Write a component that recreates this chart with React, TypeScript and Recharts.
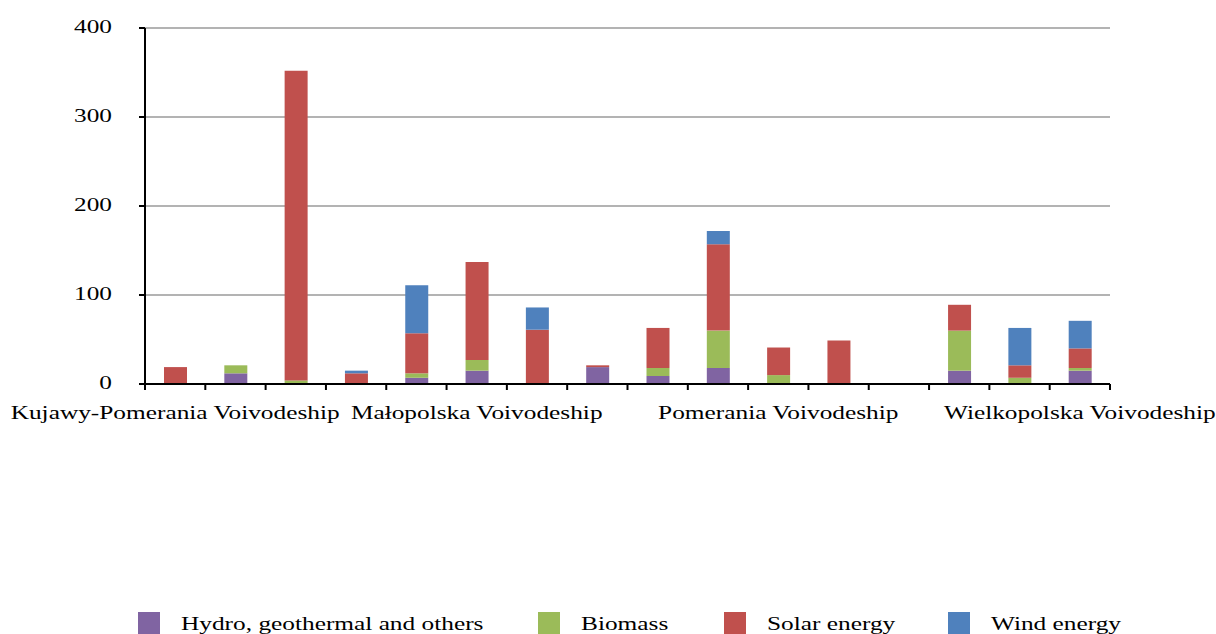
import React from "react";
import { BarChart, Bar, XAxis, YAxis, CartesianGrid, Legend } from "recharts";

const categories = [
  "Kujawy-Pomerania Voivodeship",
  "Lower Silesia Voivodeship",
  "Lublin Voivodeship",
  "Lubusz Voivodeship",
  "Łódź Voivodeship",
  "Małopolska Voivodeship",
  "Masovia Voivodeship",
  "Opole Voivodeship",
  "Podkarpacie Voivodeship",
  "Podlasie Voivodeship",
  "Pomerania Voivodeship",
  "Silesia Voivodeship",
  "Świętokrzyskie Voivodeship",
  "Warmia-Masuria Voivodeship",
  "West Pomerania Voivodeship",
  "Wielkopolska Voivodeship",
];
const hydro = [0, 12, 0, 0, 7, 15, 0, 19, 9, 18, 0, 0, 0, 15, 0, 15];
const biomass = [0, 9, 4, 0, 5, 12, 0, 0, 9, 42, 10, 0, 0, 45, 7, 3];
const solar = [19, 0, 348, 12, 45, 110, 61, 2, 45, 97, 31, 49, 0, 29, 14, 22];
const wind = [0, 0, 0, 3, 54, 0, 25, 0, 0, 15, 0, 0, 0, 0, 42, 31];
const yTicks = [0, 100, 200, 300, 400];

const seriesNames = ["Hydro, geothermal and others", "Biomass", "Solar energy", "Wind energy"];
const seriesKeys = ["hydro", "biomass", "solar", "wind"];
const colors = ["#8064A2", "#9BBB59", "#C0504D", "#4F81BD"];

const data = categories.map((c, i) => ({
  name: c,
  hydro: hydro[i],
  biomass: biomass[i],
  solar: solar[i],
  wind: wind[i],
}));

const SX = 1.37;
const FONT = "'Liberation Serif', 'Times New Roman', serif";
const W = 1216;
const H = 634;
const M = { top: 28, right: 106, left: 0, bottom: 210 };
const Y_W = 145;
const PLOT_W = W - M.right - Y_W;
const HALF = PLOT_W / categories.length / 2;

function YTick(props: any) {
  const { x, y, payload } = props;
  return (
    <g transform={`translate(${x},${y + 5}) scale(${SX},1)`}>
      <text x={0} y={0} textAnchor="end" fontFamily={FONT} fontSize={18.5} fill="#000">
        {payload.value}
      </text>
    </g>
  );
}

function XTick(props: any) {
  const { x, y, payload, index } = props;
  const idx = payload && typeof payload.index === "number" ? payload.index : index;
  const last = idx === categories.length - 1;
  return (
    <g>
      <line x1={x - HALF} x2={x - HALF} y1={y} y2={y + 6} stroke="#000" strokeWidth={2} />
      {last && <line x1={x + HALF} x2={x + HALF} y1={y} y2={y + 6} stroke="#000" strokeWidth={2} />}
      {idx % 5 === 0 && (
        <g transform={`translate(${x},${y + 35}) scale(${SX},1)`}>
          <text x={0} y={0} textAnchor="middle" fontFamily={FONT} fontSize={18.5} fill="#000">
            {payload.value}
          </text>
        </g>
      )}
    </g>
  );
}

const legendX = [138, 538, 724, 948];

function LegendContent() {
  return (
    <svg width={W} height={34} style={{ display: "block" }}>
      {seriesNames.map((n, i) => (
        <g key={n}>
          <rect x={legendX[i]} y={12} width={22} height={22} fill={colors[i]} />
          <g transform={`translate(${legendX[i] + 43},${30}) scale(${SX},1)`}>
            <text x={0} y={0} fontFamily={FONT} fontSize={18.5} fill="#000">
              {n}
            </text>
          </g>
        </g>
      ))}
    </svg>
  );
}

export default function App() {
  return (
    <div
      style={{
        position: "fixed",
        left: 0,
        top: 0,
        width: W,
        height: H,
        background: "#fff",
        overflow: "hidden",
      }}
    >
      <BarChart width={W} height={H} data={data} margin={M} barSize={23}>
        <CartesianGrid vertical={false} stroke="#9a9a9a" strokeWidth={1.5} />
        <YAxis
          width={Y_W}
          domain={[0, 400]}
          ticks={yTicks}
          allowDataOverflow
          axisLine={{ stroke: "#000", strokeWidth: 2 }}
          tickLine={{ stroke: "#000", strokeWidth: 2 }}
          tickSize={6}
          tickMargin={27}
          tick={<YTick />}
        />
        <XAxis
          dataKey="name"
          interval={0}
          height={40}
          tickSize={0}
          tickMargin={0}
          tickLine={false}
          axisLine={{ stroke: "#000", strokeWidth: 2 }}
          tick={<XTick />}
        />
        <Legend
          layout="horizontal"
          verticalAlign="middle"
          wrapperStyle={{ position: "absolute", top: 600, left: 0, width: W, height: 34, bottom: "auto" }}
          content={<LegendContent />}
        />
        {seriesKeys.map((k, i) => (
          <Bar key={k} dataKey={k} name={seriesNames[i]} stackId="a" fill={colors[i]} isAnimationActive={false} />
        ))}
      </BarChart>
    </div>
  );
}
